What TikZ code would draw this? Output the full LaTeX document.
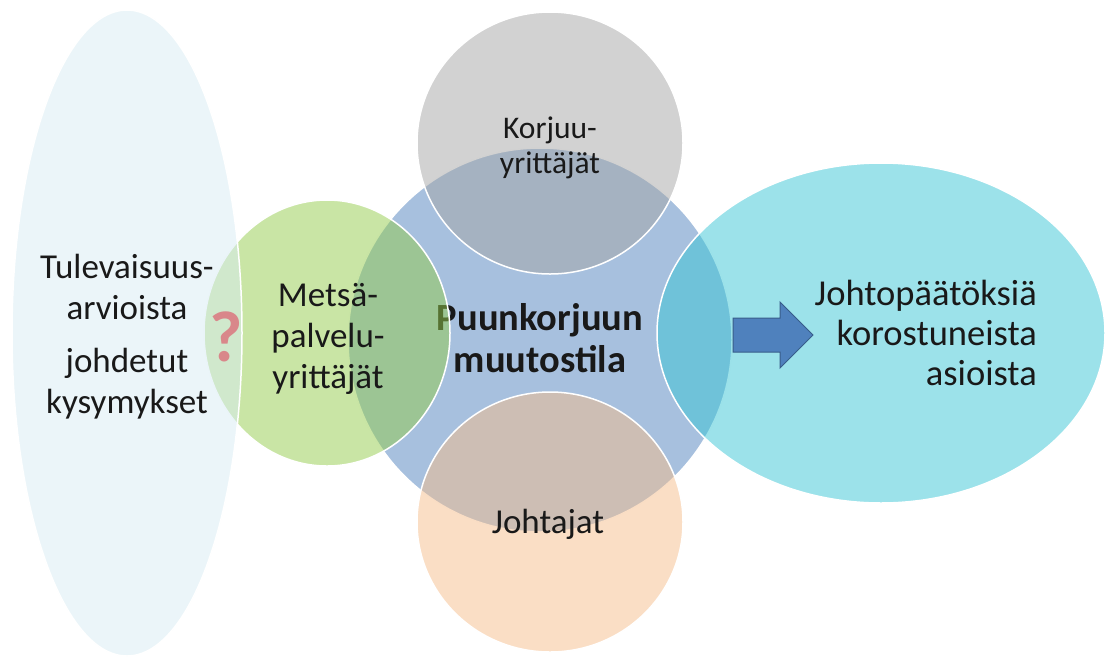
\documentclass[tikz,border=0pt]{standalone}
\usepackage{fontspec}
\setmainfont{Carlito}
\usetikzlibrary{shapes.geometric}
\definecolor{harmaa}{HTML}{A5A5A5}
\definecolor{sininen}{HTML}{4F81BD}
\definecolor{vihrea}{HTML}{93CB4B}
\definecolor{persikka}{HTML}{F5BD8B}
\definecolor{turkoosi}{HTML}{39C5D5}
\definecolor{vaalea}{HTML}{D7EBF3}
\definecolor{kysymys}{HTML}{D9878A}
\definecolor{reuna}{HTML}{385D8A}

\begin{document}
\begin{tikzpicture}[x=1pt,y=-1pt,
  pallo/.style={ellipse,draw=white,line width=1.5pt,fill opacity=.5,inner sep=0pt},
  teksti/.style={inner sep=0pt,align=center,text=black!90,font=\fontsize{35}{41}\selectfont}]
  \useasboundingbox (0,0) rectangle (1108,657);
  % keskimmainen pallo ja sen teksti (jaa vihrean alle)
  \node[pallo,fill=sininen,minimum width=384,minimum height=384] (keskus) at (540,340) {};
  \node[teksti,font=\bfseries\fontsize{38.5}{42}\selectfont] (muutos) at (540,338) {Puunkorjuun\\muutostila};
  % ymparoivat pallot
  \node[pallo,fill=harmaa,minimum width=266,minimum height=262] (korjuu) at (550,143) {};
  \node[pallo,fill=persikka,minimum width=266,minimum height=260] (johto) at (550,522) {};
  \node[pallo,fill=vihrea,minimum width=246,minimum height=266] (metsa) at (327,333) {};
  \node[pallo,fill=turkoosi,minimum width=448,minimum height=340] (paatos) at (881,333) {};
  \node[pallo,fill=vaalea,minimum width=230,minimum height=646] (tulevaisuus) at (127,333) {};
  \node[inner sep=0pt,text=kysymys,font=\bfseries\fontsize{72}{72}\selectfont] (kysymys) at (226,337) {?};
  % nuoli
  \filldraw[fill=sininen,draw=reuna,line width=1pt] (733,318) -- (780,318) -- (780,302)
    -- (813,335) -- (780,368) -- (780,352) -- (733,352) -- cycle;
  % tekstit
  \node[teksti] (kysymykset) at (127,337) {Tulevaisuus-\\arvioista\\[12pt]johdetut\\kysymykset};
  \node[teksti] (metsateksti) at (328,339) {Metsä-\\palvelu-\\yrittäjät};
  \node[teksti,font=\fontsize{31.5}{35}\selectfont] (korjuuteksti) at (550,148) {Korjuu-\\yrittäjät};
  \node[teksti,anchor=base] (johtoteksti) at (548,533) {Johtajat};
  \node[teksti,font=\fontsize{36.5}{40}\selectfont,align=right,anchor=east] (paatosteksti) at (1037,333) {Johtopäätöksiä\\korostuneista\\asioista};
\end{tikzpicture}
\end{document}
